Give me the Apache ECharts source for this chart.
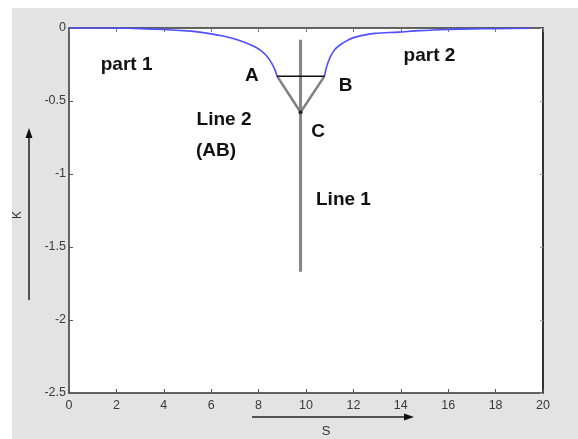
<!DOCTYPE html>
<html>
<head>
<meta charset="utf-8">
<script src="https://cdn.jsdelivr.net/npm/echarts@6/dist/echarts.min.js"></script>
<style>
html, body { margin: 0; padding: 0; background: #fff; }
#chart { width: 578px; height: 439px; }
</style>
</head>
<body>
<div id="chart"></div>
<script>
// Axis ranges and tick labels
const xTickLabels = ['0', '2', '4', '6', '8', '10', '12', '14', '16', '18', '20'];
const yTickLabels = ['-2.5', '-2', '-1.5', '-1', '-0.5', '0'];

// Curve K(S), left branch (part 1) up to A
const part1 = [
  [0, 0], [1, 0], [2, -0.001], [3, -0.004], [4, -0.01], [5, -0.02],
  [5.5, -0.028], [6, -0.04], [6.5, -0.055], [7, -0.075], [7.4, -0.097],
  [7.8, -0.125], [8.1, -0.155], [8.36, -0.195], [8.55, -0.24],
  [8.7, -0.29], [8.78, -0.33]
];

// Curve K(S), right branch (part 2) from B
const part2 = [
  [10.78, -0.33], [10.88, -0.26], [11.03, -0.196], [11.2, -0.15],
  [11.46, -0.113], [11.75, -0.085], [12.0, -0.066], [12.5, -0.047],
  [12.9, -0.037], [13.9, -0.028], [14.8, -0.018], [16, -0.01],
  [17, -0.006], [18, -0.004], [19.5, -0.002]
];

// Construction points
const pointA = [8.78, -0.33];
const pointB = [10.78, -0.33];
const pointC = [9.77, -0.577];

// Line 1: vertical line through C
const line1 = [[9.77, -0.08], [9.77, -1.67]];

// Text annotations: [text, x, y]
const notes = [
  ['part 1', 2.43, -0.25],
  ['part 2', 15.21, -0.19],
  ['A', 7.72, -0.325],
  ['B', 11.67, -0.397],
  ['C', 10.51, -0.709],
  ['Line 2', 6.54, -0.63],
  ['(AB)', 6.2, -0.842],
  ['Line 1', 11.58, -1.175]
];

const chart = echarts.init(document.getElementById('chart'), null, { renderer: 'canvas' });

const labelFont = { fontFamily: 'Liberation Sans, Arial, sans-serif', fontSize: 12.5, color: '#3a3a3a' };
const noteFont = 'Liberation Sans, Arial, sans-serif';

const option = {
  animation: false,
  backgroundColor: '#ffffff',
  grid: {
    left: 69, top: 28, right: 35, bottom: 46,
    show: true, backgroundColor: '#ffffff', borderWidth: 0
  },
  xAxis: [{
    type: 'value', min: 0, max: 20, interval: 2,
    axisLine: { show: true, onZero: false, lineStyle: { color: '#333', width: 1.5 } },
    axisTick: { show: true, inside: true, length: 4, lineStyle: { color: '#555' } },
    axisLabel: Object.assign({ margin: 6, formatter: v => xTickLabels[Math.round(v / 2)] }, labelFont),
    splitLine: { show: false }
  }, {
    type: 'value', min: 0, max: 20, interval: 2, position: 'top',
    axisLine: { show: true, onZero: false, lineStyle: { color: '#333', width: 1.5 } },
    axisTick: { show: true, inside: true, length: 4, lineStyle: { color: '#777' } },
    axisLabel: { show: false },
    splitLine: { show: false }
  }],
  yAxis: [{
    type: 'value', min: -2.5, max: 0, interval: 0.5,
    axisLine: { show: true, onZero: false, lineStyle: { color: '#333', width: 1.5 } },
    axisTick: { show: true, inside: true, length: 4, lineStyle: { color: '#555' } },
    axisLabel: Object.assign({ margin: 3, formatter: v => yTickLabels[Math.round((v + 2.5) / 0.5)] }, labelFont),
    splitLine: { show: false }
  }, {
    type: 'value', min: -2.5, max: 0, interval: 0.5, position: 'right',
    axisLine: { show: true, onZero: false, lineStyle: { color: '#333', width: 2 } },
    axisTick: { show: true, inside: true, length: 3, lineStyle: { color: '#999' } },
    axisLabel: { show: false },
    splitLine: { show: false }
  }],
  graphic: [
    // figure background
    { type: 'rect', shape: { x: 12, y: 8, width: 566, height: 431 }, style: { fill: '#e3e3e3' }, z: -100, silent: true },
    // K axis arrow
    { type: 'line', shape: { x1: 29, y1: 300, x2: 29, y2: 135 }, style: { stroke: '#222', lineWidth: 1.5 }, z: 10 },
    { type: 'polygon', shape: { points: [[29, 128], [25.5, 138], [32.5, 138]] }, style: { fill: '#111' }, z: 10 },
    { type: 'text', x: 18, y: 215, rotation: Math.PI / 2,
      style: { text: 'K', font: '12px Liberation Sans, Arial, sans-serif', fill: '#333', align: 'center', verticalAlign: 'middle' }, z: 10 },
    // S axis arrow
    { type: 'line', shape: { x1: 252, y1: 417, x2: 406, y2: 417 }, style: { stroke: '#222', lineWidth: 1.5 }, z: 10 },
    { type: 'polygon', shape: { points: [[414, 417], [404, 413.5], [404, 420.5]] }, style: { fill: '#111' }, z: 10 },
    { type: 'text', x: 326, y: 431,
      style: { text: 'S', font: '13px Liberation Sans, Arial, sans-serif', fill: '#333', align: 'center', verticalAlign: 'middle' }, z: 10 }
  ],
  series: [
    {
      name: 'part 1', type: 'line', data: part1, showSymbol: false, smooth: 0.3,
      lineStyle: { color: '#4f4fff', width: 1.6 }, z: 5
    },
    {
      name: 'part 2', type: 'line', data: part2, showSymbol: false, smooth: 0.3,
      lineStyle: { color: '#4f4fff', width: 1.6 }, z: 5
    },
    {
      name: 'AC-CB', type: 'line', data: [pointA, pointC, pointB], showSymbol: false,
      lineStyle: { color: '#808080', width: 2.5 }, z: 3
    },
    {
      name: 'Line 1', type: 'line', data: line1, showSymbol: false,
      lineStyle: { color: '#858585', width: 3 }, z: 4
    },
    {
      name: 'Line 2', type: 'line', data: [pointA, pointB], showSymbol: false,
      lineStyle: { color: '#111', width: 1.4 }, z: 6
    },
    {
      name: 'C', type: 'scatter', data: [pointC], symbolSize: 4,
      itemStyle: { color: '#222', opacity: 1 }, z: 7
    },
    {
      name: 'notes', type: 'scatter', symbolSize: 0, z: 8,
      itemStyle: { color: 'transparent', opacity: 1 },
      data: notes.map(n => ({ value: [n[1], n[2]], name: n[0] })),
      label: {
        show: true, position: 'inside', formatter: p => p.name,
        fontFamily: noteFont, fontWeight: 'bold', fontSize: 19, color: '#111',
        textBorderWidth: 0, textBorderColor: 'transparent'
      }
    }
  ]
};

chart.setOption(option);
</script>
</body>
</html>
